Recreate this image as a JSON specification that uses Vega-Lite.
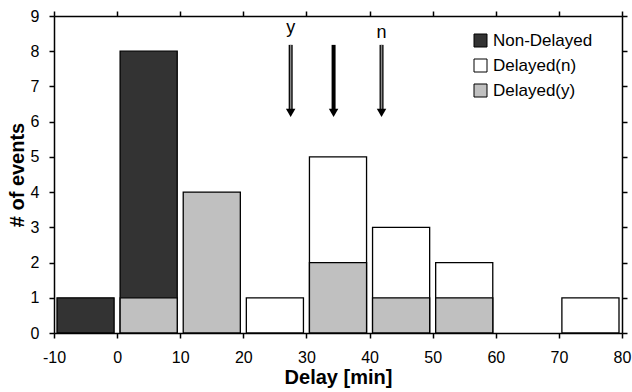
{
  "$schema": "https://vega.github.io/schema/vega-lite/v6.json",
  "autosize": "none",
  "width": 568,
  "height": 317,
  "padding": {"left": 54, "top": 16, "right": 10, "bottom": 59},
  "background": "white",
  "config": {
    "font": "Liberation Sans",
    "view": {"stroke": null},
    "axis": {
      "grid": false,
      "domainColor": "black",
      "domainWidth": 1.5,
      "tickColor": "black",
      "tickWidth": 1.5,
      "tickSize": 5,
      "labelFont": "Liberation Sans",
      "labelFontSize": 16,
      "labelColor": "black",
      "titleFont": "Liberation Sans",
      "titleColor": "black"
    }
  },
  "datasets": {
    "bars": [
      {"series": "Non-Delayed", "lo": -10, "hi": 0, "count": 1},
      {"series": "Non-Delayed", "lo": 0, "hi": 10, "count": 8},
      {"series": "Delayed(n)", "lo": 20, "hi": 30, "count": 1},
      {"series": "Delayed(n)", "lo": 30, "hi": 40, "count": 5},
      {"series": "Delayed(n)", "lo": 40, "hi": 50, "count": 3},
      {"series": "Delayed(n)", "lo": 50, "hi": 60, "count": 2},
      {"series": "Delayed(n)", "lo": 70, "hi": 80, "count": 1},
      {"series": "Delayed(y)", "lo": 0, "hi": 10, "count": 1},
      {"series": "Delayed(y)", "lo": 10, "hi": 20, "count": 4},
      {"series": "Delayed(y)", "lo": 30, "hi": 40, "count": 2},
      {"series": "Delayed(y)", "lo": 40, "hi": 50, "count": 1},
      {"series": "Delayed(y)", "lo": 50, "hi": 60, "count": 1}
    ],
    "arrows": [
      {"name": "y", "x": 27.5, "top": 8.18, "bottom": 6.35, "head": 6.25, "label": "y", "labelY": 8.51},
      {"name": "mean", "x": 34.3, "top": 8.18, "bottom": 6.35, "head": 6.25, "label": "", "labelY": 8.51},
      {"name": "n", "x": 41.9, "top": 8.18, "bottom": 6.35, "head": 6.25, "label": "n", "labelY": 8.37}
    ]
  },
  "layer": [
    {
      "data": {"name": "bars"},
      "mark": {"type": "rect", "stroke": "black", "strokeWidth": 1.3, "xOffset": 3, "x2Offset": -3},
      "encoding": {
        "x": {
          "field": "lo", "type": "quantitative",
          "scale": {"domain": [-10, 80], "nice": false, "zero": false},
          "axis": {"title": "Delay [min]", "titleFontSize": 20, "titleFontWeight": "bold", "titlePadding": 2, "labelPadding": 11, "values": [-10, 0, 10, 20, 30, 40, 50, 60, 70, 80], "labelFlush": false, "labelExpr": "'' + datum.value"}
        },
        "x2": {"field": "hi"},
        "y": {
          "field": "count", "type": "quantitative",
          "scale": {"domain": [0, 9], "nice": false},
          "axis": {"title": "# of events", "titleFontSize": 20, "titleFontWeight": "bold", "titlePadding": 3, "labelPadding": 10, "values": [0, 1, 2, 3, 4, 5, 6, 7, 8, 9]}
        },
        "y2": {"datum": 0},
        "color": {
          "field": "series", "type": "nominal",
          "scale": {"domain": ["Non-Delayed", "Delayed(n)", "Delayed(y)"], "range": ["#333333", "#ffffff", "#c0c0c0"]},
          "legend": {
            "title": null, "orient": "none", "legendX": 418, "legendY": 16,
            "symbolType": "square", "symbolSize": 169, "symbolStrokeColor": "black", "symbolStrokeWidth": 1,
            "labelFontSize": 17, "labelFont": "Liberation Sans", "labelColor": "black", "rowPadding": 7, "labelOffset": 4
          }
        }
      }
    },
    {
      "data": {"name": "arrows"},
      "mark": {"type": "rule", "color": "black", "strokeWidth": 4},
      "encoding": {
        "x": {"field": "x", "type": "quantitative", "axis": {"orient": "top", "labels": false, "title": null, "values": [-10, 0, 10, 20, 30, 40, 50, 60, 70, 80]}},
        "y": {"field": "top", "type": "quantitative", "axis": {"orient": "right", "labels": false, "title": null, "values": [0, 1, 2, 3, 4, 5, 6, 7, 8, 9]}},
        "y2": {"field": "bottom"}
      }
    },
    {
      "data": {"name": "arrows"},
      "transform": [{"filter": "datum.name != 'mean'"}],
      "mark": {"type": "rule", "color": "#888888", "strokeWidth": 1.5},
      "encoding": {
        "x": {"field": "x", "type": "quantitative", "axis": null},
        "y": {"field": "top", "type": "quantitative", "axis": null},
        "y2": {"field": "bottom"}
      }
    },
    {
      "data": {"name": "arrows"},
      "mark": {"type": "point", "shape": "triangle-down", "filled": true, "color": "black", "size": 90, "opacity": 1},
      "encoding": {
        "x": {"field": "x", "type": "quantitative", "axis": null},
        "y": {"field": "head", "type": "quantitative", "axis": null}
      }
    },
    {
      "data": {"name": "arrows"},
      "mark": {"type": "text", "fontSize": 18, "font": "Liberation Sans", "color": "black", "baseline": "alphabetic"},
      "encoding": {
        "x": {"field": "x", "type": "quantitative", "axis": null},
        "y": {"field": "labelY", "type": "quantitative", "axis": null},
        "text": {"field": "label"}
      }
    }
  ],
  "resolve": {"axis": {"x": "independent", "y": "independent"}}
}
